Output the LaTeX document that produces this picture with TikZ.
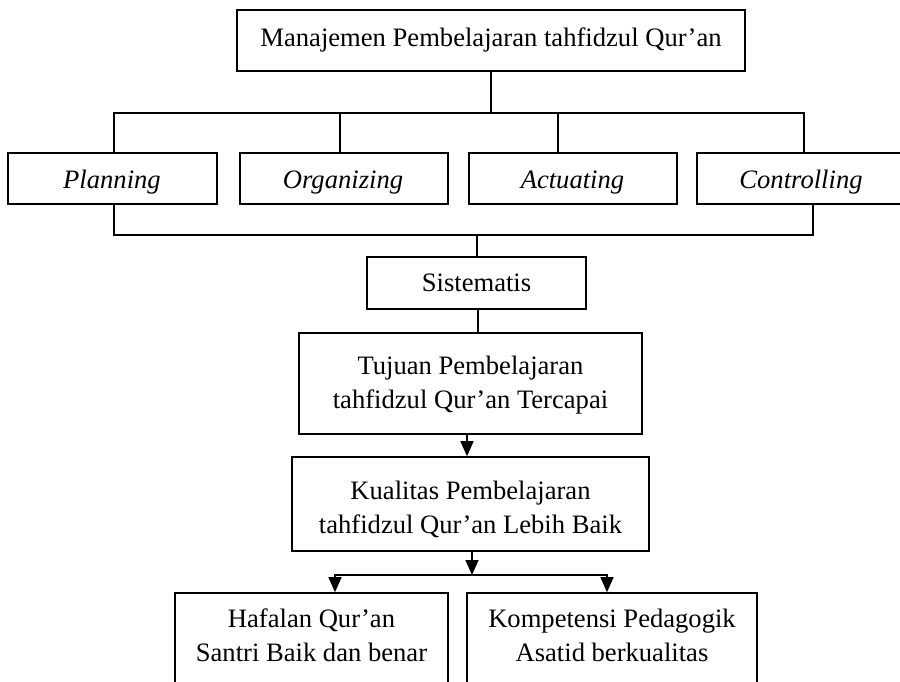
\documentclass[tikz,border=0pt]{standalone}
\usepackage{fontspec}
\setmainfont{Liberation Serif}
\usetikzlibrary{arrows.meta,calc}
\begin{document}
\begin{tikzpicture}[x=1pt,y=-1pt,
  box/.style={draw, line width=1.6pt, inner sep=0pt},
  txt/.style={font=\fontsize{26.6}{34}\selectfont, align=center, inner sep=0pt, anchor=base},
  conn/.style={line width=1.6pt},
  arr/.style={line width=1.6pt, -{Triangle[length=15pt,width=13pt]}}]
\clip (0,0) rectangle (900,681);
% top
\node[box, minimum width=508pt, minimum height=61pt] (top) at (491,40.5) {};
\node[txt] (topt) at (491,46) {Manajemen Pembelajaran tahfidzul Qur’an};
% row
\node[box, minimum width=209pt, minimum height=51pt] (plan) at (112.5,178.5) {};
\node[txt] (plant) at (112,188) {\itshape Planning};
\node[box, minimum width=208pt, minimum height=51pt] (org) at (344,178.5) {};
\node[txt] (orgt) at (343,188) {\itshape Organizing};
\node[box, minimum width=208pt, minimum height=51pt] (act) at (573,178.5) {};
\node[txt] (actt) at (572.5,188) {\itshape Actuating};
\node[box, minimum width=208pt, minimum height=51pt] (ctrl) at (801,178.5) {};
\node[txt] (ctrlt) at (801,188) {\itshape Controlling};
% middle
\node[box, minimum width=219pt, minimum height=52pt] (sis) at (476.5,283) {};
\node[txt] (sist) at (476.5,291.5) {Sistematis};
\node[box, minimum width=343pt, minimum height=101pt] (tuj) at (470.5,383.5) {};
\node[txt] (tujt) at (470.5,408) {Tujuan Pembelajaran\\tahfidzul Qur’an Tercapai};
\node[box, minimum width=357pt, minimum height=94pt] (kual) at (470.5,504) {};
\node[txt] (kualt) at (470.5,533) {Kualitas Pembelajaran\\tahfidzul Qur’an Lebih Baik};
% bottom
\node[box, minimum width=273pt, minimum height=127pt] (haf) at (311.5,656.5) {};
\node[txt] (haft) at (311.5,661.5) {Hafalan Qur’an\\Santri Baik dan benar};
\node[box, minimum width=290pt, minimum height=127pt] (komp) at (612,656.5) {};
\node[txt] (kompt) at (612,661.5) {Kompetensi Pedagogik\\Asatid berkualitas};
% connectors
\coordinate (hL) at (114,113);
\coordinate (hR) at (804,113);
\coordinate (h2) at (340,113);
\coordinate (h3) at (558,113);
\draw[conn] (top.south) -- (top.south |- hL);
\draw[conn] (plan.north -| hL) -- (hL) -- (hR) -- (ctrl.north -| hR);
\draw[conn] (h2) -- (org.north -| h2);
\draw[conn] (h3) -- (act.north -| h3);
\coordinate (gL) at (114,235);
\coordinate (gR) at (813,235);
\coordinate (g0) at (477,235);
\draw[conn] (plan.south -| gL) -- (gL) -- (gR) -- (ctrl.south -| gR);
\draw[conn] (g0) -- (sis.north -| g0);
\coordinate (s1) at (478,0);
\draw[conn] (sis.south -| s1) -- (tuj.north -| s1);
\coordinate (a1) at (467,0);
\draw[arr] (tuj.south -| a1) -- (kual.north -| a1);
\coordinate (jL) at (335,575);
\coordinate (jR) at (607,575);
\coordinate (jM) at (472,575);
\draw[arr] (kual.south -| jM) -- (jM);
\draw[arr] (jM) -| (jL |- haf.north);
\draw[arr] (jM) -| (jR |- komp.north);
\end{tikzpicture}
\end{document}
